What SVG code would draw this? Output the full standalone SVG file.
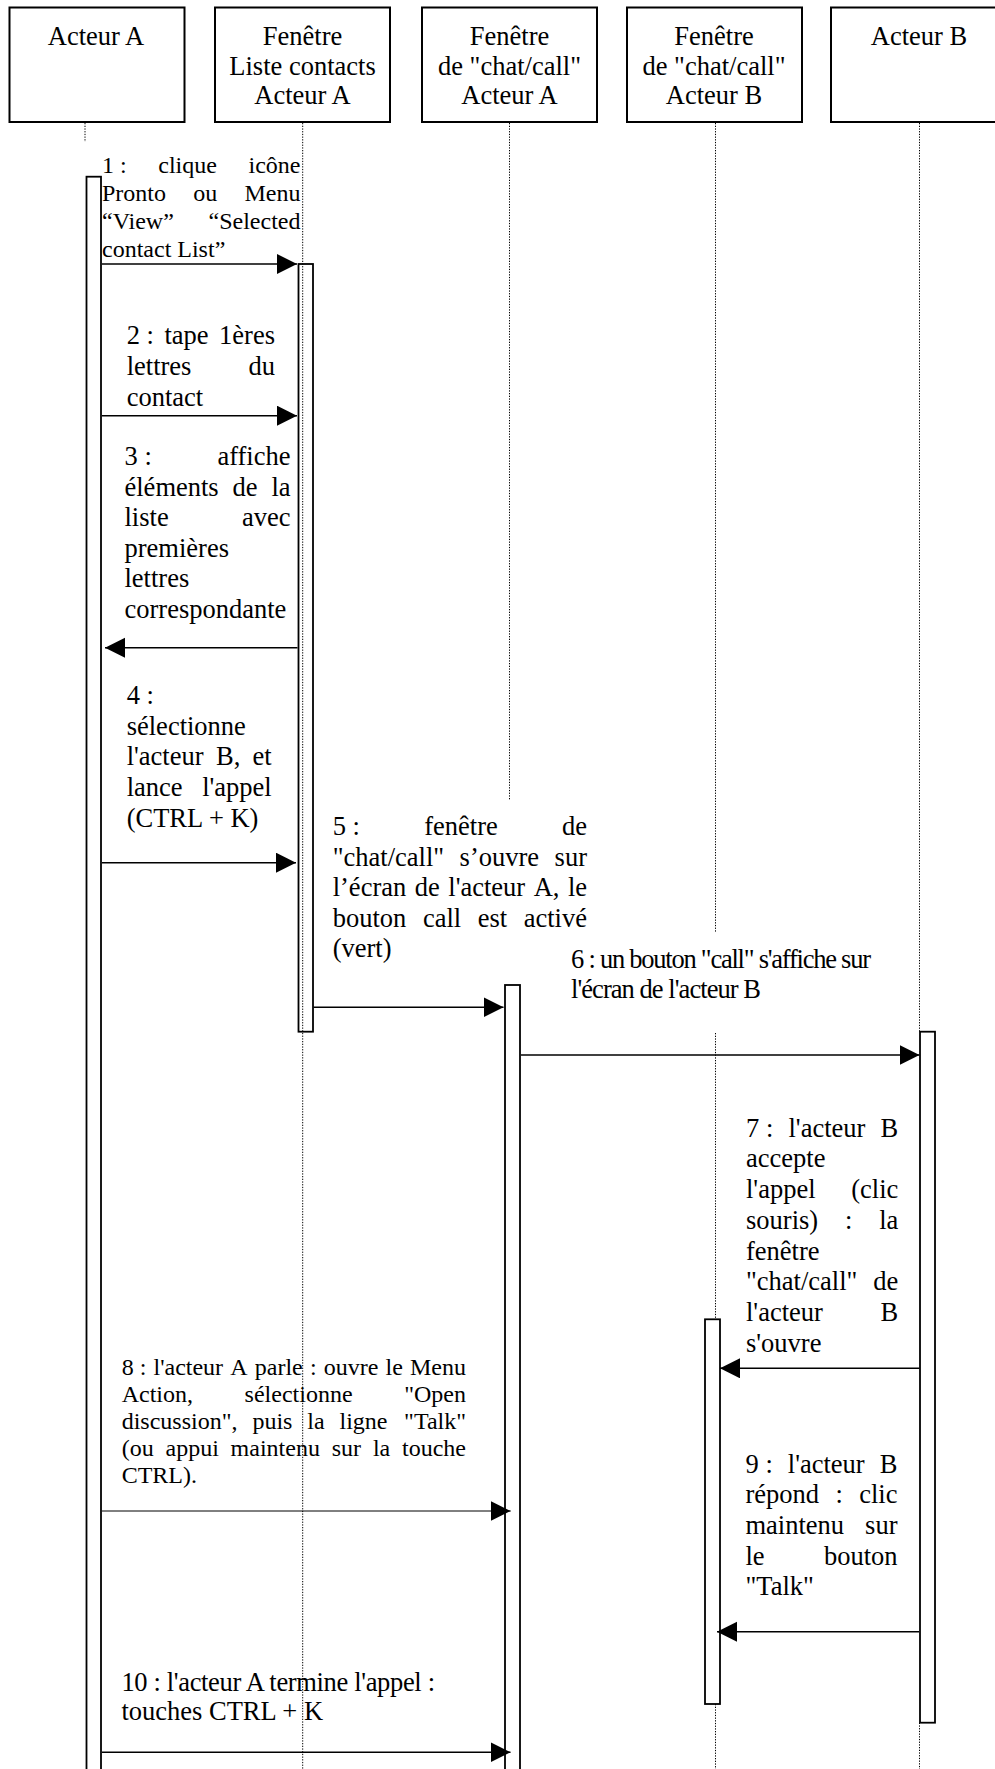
<svg xmlns="http://www.w3.org/2000/svg" width="995" height="1769" viewBox="0 0 995 1769">
<style>
text{font-family:"Liberation Serif","Times New Roman",serif;fill:#000}
.h{font-size:26.5px;text-anchor:middle}
.m26{font-size:26.5px}
.m24{font-size:24px}
.e{text-anchor:end}
.box{fill:#fff;stroke:#000;stroke-width:2}
.act{fill:#fff;stroke:#000;stroke-width:1.8}
.life{stroke:#000;stroke-width:1;stroke-dasharray:1.3 1.4;fill:none}
.msg{stroke:#000;stroke-width:1.6;fill:none;marker-end:url(#ah)}
.thin{stroke-width:1}
</style>
<defs>
<marker id="ah" markerUnits="userSpaceOnUse" markerWidth="21" markerHeight="21" refX="20" refY="10" orient="auto">
<path d="M0,0 L20,10 L0,20 z" fill="#000"/>
</marker>
</defs>
<rect width="995" height="1769" fill="#fff"/>

<g id="acteurA">
<rect class="box" x="9.5" y="7.5" width="175" height="114.5"/>
<text class="h" x="96" y="44.5">Acteur A</text>
<line class="life" x1="85" y1="123" x2="85" y2="142"/>
<rect class="act" x="86.5" y="176.7" width="14.5" height="1600"/>
</g>

<g id="listeContactsA">
<rect class="box" x="215" y="7.5" width="175" height="114.5"/>
<text class="h" x="302.5" y="44.5">Fenêtre</text>
<text class="h" x="302.5" y="74.5">Liste contacts</text>
<text class="h" x="302.5" y="104">Acteur A</text>
<rect class="act" x="298.5" y="264" width="14.5" height="767.7"/>
<line class="life" x1="302.7" y1="123" x2="302.7" y2="1769"/>
</g>

<g id="chatCallA">
<rect class="box" x="422" y="7.5" width="175" height="114.5"/>
<text class="h" x="509.5" y="44.5">Fenêtre</text>
<text class="h" x="509.5" y="74.5">de "chat/call"</text>
<text class="h" x="509.5" y="104">Acteur A</text>
<line class="life" x1="509.5" y1="123" x2="509.5" y2="800"/>
<rect class="act" x="505" y="985" width="15" height="800"/>
</g>

<g id="chatCallB">
<rect class="box" x="627" y="7.5" width="175" height="114.5"/>
<text class="h" x="714" y="44.5">Fenêtre</text>
<text class="h" x="714" y="74.5">de "chat/call"</text>
<text class="h" x="714" y="104">Acteur B</text>
<line class="life" x1="715.5" y1="123" x2="715.5" y2="933"/>
<line class="life" x1="715.5" y1="1033" x2="715.5" y2="1319"/>
<line class="life" x1="715.5" y1="1704" x2="715.5" y2="1769"/>
<rect class="act" x="705" y="1319.3" width="15" height="384.7"/>
</g>

<g id="acteurB">
<rect class="box" x="831" y="7.5" width="175" height="114.5"/>
<text class="h" x="919" y="44.5">Acteur B</text>
<line class="life" x1="919.5" y1="123" x2="919.5" y2="1032"/>
<line class="life" x1="919.5" y1="1722.7" x2="919.5" y2="1769"/>
<rect class="act" x="920" y="1031.7" width="15" height="691"/>
</g>

<g id="connectors">
<line class="msg" x1="102" y1="264" x2="297" y2="264"/>
<line class="msg" x1="102" y1="415.7" x2="297" y2="415.7"/>
<line class="msg" x1="297.5" y1="647.7" x2="105" y2="647.7"/>
<line class="msg" x1="102" y1="862.7" x2="296" y2="862.7"/>
<line class="msg" x1="313.5" y1="1007.3" x2="503.5" y2="1007.3"/>
<line class="msg" x1="521" y1="1055" x2="919.5" y2="1055"/>
<line class="msg" x1="919.5" y1="1368.3" x2="720" y2="1368.3"/>
<line class="msg thin" x1="102" y1="1511" x2="510.7" y2="1511"/>
<line class="msg" x1="919" y1="1631.7" x2="717" y2="1631.7"/>
<line class="msg" x1="102" y1="1752.3" x2="510.5" y2="1752.3"/>
</g>

<g id="labels">
<g id="m1">
<text class="m24" y="173.3"><tspan x="102">1&#160;:</tspan><tspan x="158.3">clique</tspan></text>
<text class="m24 e" x="300.5" y="173.3">icône</text>
<text class="m24" y="201"><tspan x="102">Pronto</tspan><tspan x="193.3">ou</tspan></text>
<text class="m24 e" x="300.5" y="201">Menu</text>
<text class="m24" x="102" y="229">“View”</text>
<text class="m24 e" x="300.5" y="229">“Selected</text>
<text class="m24" x="102" y="256.5">contact List”</text>
</g>
<g id="m2">
<text class="m26" y="344"><tspan x="126.7">2&#160;:</tspan><tspan x="164.4">tape</tspan></text>
<text class="m26 e" x="275" y="344">1ères</text>
<text class="m26" x="126.7" y="375">lettres</text>
<text class="m26 e" x="275" y="375">du</text>
<text class="m26" x="126.7" y="406">contact</text>
</g>
<g id="m3">
<text class="m26" x="124.5" y="465">3&#160;:</text>
<text class="m26 e" x="290.5" y="465">affiche</text>
<text class="m26" y="495.6"><tspan x="124.5">éléments</tspan><tspan x="232.6">de</tspan></text>
<text class="m26 e" x="290.5" y="495.6">la</text>
<text class="m26" x="124.5" y="526.2">liste</text>
<text class="m26 e" x="290.5" y="526.2">avec</text>
<text class="m26" x="124.5" y="556.8">premières</text>
<text class="m26" x="124.5" y="587.4">lettres</text>
<text class="m26" x="124.5" y="618">correspondante</text>
</g>
<g id="m4">
<text class="m26" x="126.7" y="704">4&#160;:</text>
<text class="m26" x="126.7" y="734.6">sélectionne</text>
<text class="m26" y="765.3"><tspan x="126.7">l'acteur</tspan><tspan x="216">B,</tspan></text>
<text class="m26 e" x="271.7" y="765.3">et</text>
<text class="m26" x="126.7" y="796">lance</text>
<text class="m26 e" x="271.7" y="796">l'appel</text>
<text class="m26" x="126.7" y="826.7">(CTRL + K)</text>
</g>
<g id="m5">
<text class="m26" y="835"><tspan x="332.7">5&#160;:</tspan><tspan x="424.2">fenêtre</tspan></text>
<text class="m26 e" x="587" y="835">de</text>
<text class="m26" y="865.6"><tspan x="332.7">"chat/call"</tspan><tspan x="459.6">s’ouvre</tspan></text>
<text class="m26 e" x="587" y="865.6">sur</text>
<text class="m26" y="896.2"><tspan x="332.7">l’écran</tspan><tspan x="414.8">de</tspan><tspan x="448.3">l'acteur</tspan><tspan x="533.7">A,</tspan></text>
<text class="m26 e" x="587" y="896.2">le</text>
<text class="m26" y="926.8"><tspan x="332.7">bouton</tspan><tspan x="422.9">call</tspan><tspan x="477.8">est</tspan></text>
<text class="m26 e" x="587" y="926.8">activé</text>
<text class="m26" x="332.7" y="957.4">(vert)</text>
</g>
<g id="m6">
<text class="m26" x="571" y="968" textLength="300" lengthAdjust="spacing">6&#160;: un bouton "call" s'affiche sur</text>
<text class="m26" x="571" y="998" textLength="190" lengthAdjust="spacing">l'écran de l'acteur B</text>
</g>
<g id="m7">
<text class="m26" y="1136.7"><tspan x="746">7&#160;:</tspan><tspan x="788.5">l'acteur</tspan></text>
<text class="m26 e" x="898.3" y="1136.7">B</text>
<text class="m26" x="746" y="1167.4">accepte</text>
<text class="m26" x="746" y="1198.1">l'appel</text>
<text class="m26 e" x="898.3" y="1198.1">(clic</text>
<text class="m26" y="1228.8"><tspan x="746">souris)</tspan><tspan x="845">:</tspan></text>
<text class="m26 e" x="898.3" y="1228.8">la</text>
<text class="m26" x="746" y="1259.5">fenêtre</text>
<text class="m26" x="746" y="1290.2">"chat/call"</text>
<text class="m26 e" x="898.3" y="1290.2">de</text>
<text class="m26" x="746" y="1320.9">l'acteur</text>
<text class="m26 e" x="898.3" y="1320.9">B</text>
<text class="m26" x="746" y="1351.6">s'ouvre</text>
</g>
<g id="m8">
<text class="m24" y="1375"><tspan x="121.7">8&#160;:</tspan><tspan x="153.5">l'acteur</tspan><tspan x="230.3">A</tspan><tspan x="254.8">parle</tspan><tspan x="309.9">:</tspan><tspan x="323.7">ouvre</tspan><tspan x="385.5">le</tspan></text>
<text class="m24 e" x="466" y="1375">Menu</text>
<text class="m24" y="1402.1"><tspan x="121.7">Action,</tspan><tspan x="244.6">sélectionne</tspan></text>
<text class="m24 e" x="466" y="1402.1">"Open</text>
<text class="m24" y="1429.2"><tspan x="121.7">discussion",</tspan><tspan x="252.4">puis</tspan><tspan x="307.3">la</tspan><tspan x="339.5">ligne</tspan></text>
<text class="m24 e" x="466" y="1429.2">"Talk"</text>
<text class="m24" y="1456.3"><tspan x="121.7">(ou</tspan><tspan x="165.5">appui</tspan><tspan x="230.6">maintenu</tspan><tspan x="331.7">sur</tspan><tspan x="372.9">la</tspan></text>
<text class="m24 e" x="466" y="1456.3">touche</text>
<text class="m24" x="121.7" y="1483.4">CTRL).</text>
</g>
<g id="m9">
<text class="m26" y="1472.5"><tspan x="745.5">9&#160;:</tspan><tspan x="787.8">l'acteur</tspan></text>
<text class="m26 e" x="897.5" y="1472.5">B</text>
<text class="m26" y="1503.2"><tspan x="745.5">répond</tspan><tspan x="835.4">:</tspan></text>
<text class="m26 e" x="897.5" y="1503.2">clic</text>
<text class="m26" x="745.5" y="1533.9">maintenu</text>
<text class="m26 e" x="897.5" y="1533.9">sur</text>
<text class="m26" x="745.5" y="1564.6">le</text>
<text class="m26 e" x="897.5" y="1564.6">bouton</text>
<text class="m26" x="745.5" y="1595.3">"Talk"</text>
</g>
<g id="m10">
<text class="m26" x="121.4" y="1690.7" textLength="313.6" lengthAdjust="spacing">10&#160;: l'acteur A termine l'appel&#160;:</text>
<text class="m26" x="121.4" y="1720">touches CTRL + K</text>
</g>
</g>
</svg>
